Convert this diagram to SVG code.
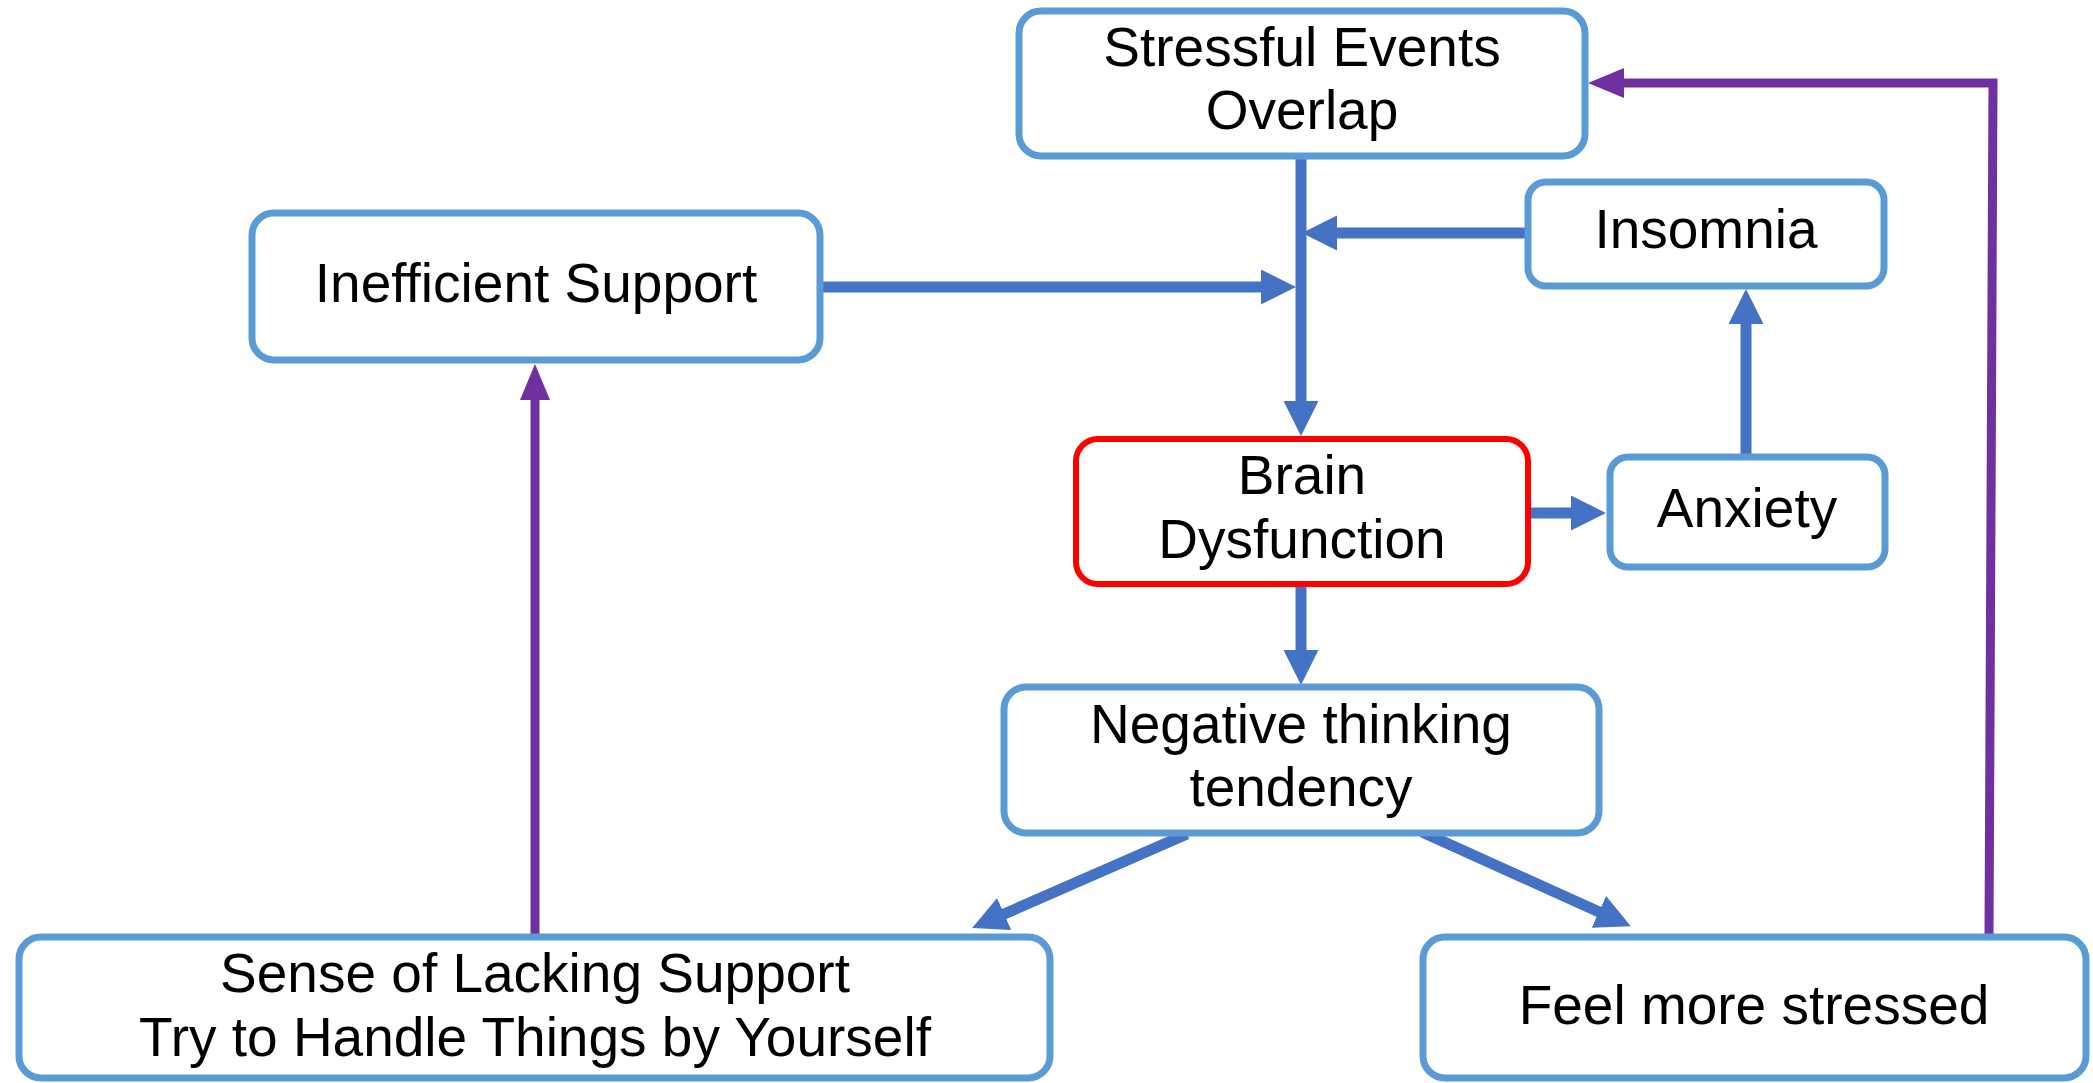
<svg xmlns="http://www.w3.org/2000/svg" width="2093" height="1083" viewBox="0 0 2093 1083">
<style>
.box{fill:#FFFFFF;stroke:#5B9BD5;stroke-width:7}
.red{fill:#FFFFFF;stroke:#FF0000;stroke-width:6}
.t{font-family:"Liberation Sans",Arial,sans-serif;font-size:55px;fill:#000000;text-anchor:middle}
.b{fill:none;stroke:#4472C4;stroke-width:11}
.p{fill:none;stroke:#7030A0;stroke-width:9}
</style>
<defs>
<marker id="ab" markerUnits="userSpaceOnUse" markerWidth="36" markerHeight="36" refX="10" refY="17.5" orient="auto">
<path d="M0,0 L35,17.5 L0,35 z" fill="#4472C4"/>
</marker>
<marker id="ap" markerUnits="userSpaceOnUse" markerWidth="37" markerHeight="32" refX="10" refY="15" orient="auto">
<path d="M0,0 L36,15 L0,30 z" fill="#7030A0"/>
</marker>
</defs>
<rect width="2093" height="1083" fill="#FFFFFF"/>
<g id="connectors">
<line class="b" x1="1301" y1="158" x2="1301" y2="411" marker-end="url(#ab)"/>
<line class="b" x1="1526" y1="233" x2="1327" y2="233" marker-end="url(#ab)"/>
<line class="b" x1="822" y1="287" x2="1271" y2="287" marker-end="url(#ab)"/>
<line class="b" x1="1528" y1="513" x2="1581" y2="513" marker-end="url(#ab)"/>
<line class="b" x1="1746" y1="454" x2="1746" y2="314" marker-end="url(#ab)"/>
<line class="b" x1="1301" y1="586" x2="1301" y2="660" marker-end="url(#ab)"/>
<line class="b" x1="1187" y1="834" x2="995" y2="918" marker-end="url(#ab)"/>
<line class="b" x1="1422" y1="832" x2="1608" y2="916" marker-end="url(#ab)"/>
<line class="p" x1="535" y1="934" x2="535" y2="390" marker-end="url(#ap)"/>
<polyline class="p" points="1989,934 1993,83 1614,83" marker-end="url(#ap)"/>
</g>
<g id="stressful">
<rect class="box" x="1019" y="11" width="566" height="145" rx="22"/>
<text class="t" x="1302" y="66">Stressful Events</text>
<text class="t" x="1302" y="129">Overlap</text>
</g>
<g id="insomnia">
<rect class="box" x="1528" y="182" width="356" height="104" rx="18"/>
<text class="t" x="1706" y="248">Insomnia</text>
</g>
<g id="inefficient">
<rect class="box" x="252" y="213" width="568" height="147" rx="22"/>
<text class="t" x="536" y="302">Inefficient Support</text>
</g>
<g id="brain">
<rect class="red" x="1076" y="439" width="452" height="145" rx="22"/>
<text class="t" x="1302" y="494">Brain</text>
<text class="t" x="1302" y="558">Dysfunction</text>
</g>
<g id="anxiety">
<rect class="box" x="1610" y="457" width="275" height="110" rx="18"/>
<text class="t" x="1747" y="527">Anxiety</text>
</g>
<g id="negative">
<rect class="box" x="1004" y="687" width="595" height="146" rx="22"/>
<text class="t" x="1301" y="743">Negative thinking</text>
<text class="t" x="1301" y="806">tendency</text>
</g>
<g id="sense">
<rect class="box" x="19" y="937" width="1031" height="141" rx="22"/>
<text class="t" x="535" y="992">Sense of Lacking Support</text>
<text class="t" x="535" y="1056">Try to Handle Things by Yourself</text>
</g>
<g id="feel">
<rect class="box" x="1423" y="937" width="663" height="141" rx="22"/>
<text class="t" x="1754" y="1024">Feel more stressed</text>
</g>
</svg>
